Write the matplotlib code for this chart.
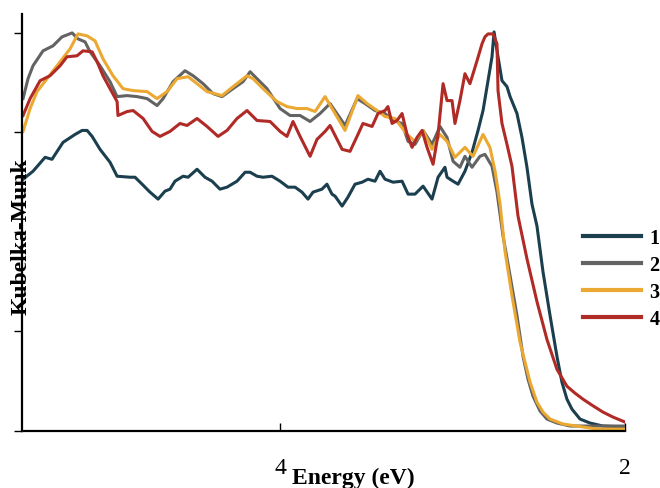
import matplotlib
matplotlib.use("Agg")
import matplotlib.pyplot as plt

plt.rcParams['font.family'] = ['Liberation Serif', 'DejaVu Serif']

# energy (eV) and Kubelka-Munk values
e1 = [5.494, 5.436, 5.366, 5.326, 5.262, 5.192, 5.151, 5.122, 5.093, 5.047, 4.989, 4.948,
      4.873, 4.844, 4.803, 4.757, 4.710, 4.670, 4.641, 4.612, 4.565, 4.536, 4.484, 4.438,
      4.397, 4.351, 4.310, 4.252, 4.205, 4.176, 4.136, 4.101, 4.049, 4.002, 3.956, 3.915,
      3.875, 3.840, 3.811, 3.759, 3.730, 3.701, 3.683, 3.642, 3.608, 3.567, 3.526, 3.492,
      3.451, 3.422, 3.393, 3.346, 3.294, 3.259, 3.219, 3.172, 3.120, 3.085, 3.045, 3.033,
      2.998, 2.969, 2.929, 2.888, 2.853, 2.824, 2.795, 2.772, 2.760, 2.737, 2.714, 2.685,
      2.667, 2.627, 2.598, 2.569, 2.540, 2.511, 2.476, 2.435, 2.395, 2.366, 2.337, 2.308,
      2.261, 2.203, 2.128, 2.000]
k1 = [2.53, 2.61, 2.75, 2.73, 2.90, 2.98, 3.02, 3.02, 2.96, 2.83, 2.70, 2.56,
      2.55, 2.55, 2.48, 2.40, 2.33, 2.41, 2.43, 2.51, 2.56, 2.55, 2.63, 2.55,
      2.51, 2.43, 2.45, 2.51, 2.60, 2.60, 2.56, 2.55, 2.56, 2.51, 2.45, 2.45,
      2.40, 2.33, 2.40, 2.43, 2.48, 2.38, 2.36, 2.26, 2.35, 2.48, 2.50, 2.53,
      2.51, 2.61, 2.53, 2.50, 2.51, 2.38, 2.38, 2.46, 2.33, 2.55, 2.65, 2.55,
      2.51, 2.48, 2.61, 2.80, 3.02, 3.22, 3.52, 3.76, 4.01, 3.76, 3.52, 3.46,
      3.36, 3.19, 2.95, 2.65, 2.28, 2.06, 1.60, 1.16, 0.75, 0.49, 0.32, 0.22,
      0.12, 0.08, 0.05, 0.04]

e2 = [5.494, 5.465, 5.436, 5.378, 5.320, 5.268, 5.209, 5.175, 5.134, 5.105, 5.047, 4.989,
      4.948, 4.890, 4.832, 4.774, 4.716, 4.681, 4.623, 4.554, 4.507, 4.449, 4.391, 4.339,
      4.275, 4.217, 4.176, 4.136, 4.078, 4.002, 3.944, 3.886, 3.828, 3.770, 3.712, 3.625,
      3.555, 3.509, 3.451, 3.393, 3.346, 3.294, 3.259, 3.219, 3.172, 3.120, 3.074, 3.033,
      2.998, 2.958, 2.929, 2.888, 2.842, 2.813, 2.772, 2.743, 2.708, 2.667, 2.627, 2.592,
      2.563, 2.534, 2.493, 2.453, 2.395, 2.319, 2.128, 2.000]
k2 = [3.34, 3.54, 3.67, 3.82, 3.87, 3.96, 4.00, 3.94, 3.91, 3.81, 3.67, 3.51,
      3.36, 3.37, 3.36, 3.34, 3.27, 3.34, 3.51, 3.62, 3.57, 3.49, 3.39, 3.36,
      3.44, 3.51, 3.61, 3.54, 3.44, 3.24, 3.17, 3.17, 3.11, 3.19, 3.29, 3.07,
      3.34, 3.29, 3.22, 3.19, 3.12, 3.09, 2.91, 2.88, 3.02, 2.88, 3.06, 2.95,
      2.71, 2.65, 2.76, 2.65, 2.76, 2.78, 2.66, 2.40, 1.96, 1.56, 1.16, 0.75,
      0.52, 0.35, 0.20, 0.12, 0.08, 0.05, 0.05, 0.05]

e3 = [5.494, 5.453, 5.413, 5.355, 5.279, 5.221, 5.175, 5.122, 5.076, 5.030, 4.972, 4.914,
      4.855, 4.774, 4.716, 4.658, 4.600, 4.536, 4.484, 4.426, 4.339, 4.275, 4.194, 4.159,
      4.101, 4.020, 3.962, 3.904, 3.846, 3.799, 3.741, 3.683, 3.625, 3.550, 3.497, 3.439,
      3.393, 3.335, 3.265, 3.219, 3.172, 3.120, 3.074, 3.033, 2.987, 2.929, 2.882, 2.824,
      2.784, 2.754, 2.725, 2.696, 2.656, 2.609, 2.551, 2.511, 2.476, 2.435, 2.360, 2.163,
      2.000]
k3 = [3.01, 3.24, 3.41, 3.54, 3.71, 3.84, 3.99, 3.97, 3.92, 3.74, 3.57, 3.44,
      3.42, 3.41, 3.34, 3.41, 3.54, 3.56, 3.49, 3.41, 3.37, 3.46, 3.57, 3.54,
      3.44, 3.31, 3.26, 3.24, 3.24, 3.21, 3.36, 3.19, 3.02, 3.37, 3.29, 3.22,
      3.16, 3.14, 2.98, 2.91, 3.02, 2.83, 2.98, 2.91, 2.75, 2.85, 2.76, 2.98,
      2.85, 2.61, 2.28, 1.80, 1.36, 0.89, 0.49, 0.29, 0.19, 0.12, 0.07, 0.02,
      0.02]

e4 = [5.494, 5.453, 5.395, 5.337, 5.279, 5.239, 5.181, 5.146, 5.093, 5.064, 5.030, 4.989,
      4.948, 4.943, 4.890, 4.855, 4.797, 4.745, 4.699, 4.641, 4.583, 4.542, 4.484, 4.426,
      4.362, 4.310, 4.252, 4.194, 4.136, 4.060, 4.002, 3.962, 3.927, 3.886, 3.828, 3.788,
      3.741, 3.712, 3.642, 3.596, 3.550, 3.521, 3.468, 3.434, 3.393, 3.376, 3.352, 3.323,
      3.294, 3.265, 3.236, 3.207, 3.178, 3.149, 3.114, 3.085, 3.056, 3.033, 3.004, 2.987,
      2.958, 2.929, 2.900, 2.882, 2.859, 2.830, 2.813, 2.795, 2.766, 2.743, 2.737, 2.714,
      2.685, 2.656, 2.621, 2.569, 2.511, 2.453, 2.395, 2.337, 2.290, 2.244, 2.192, 2.128,
      2.070, 2.000]
k4 = [3.17, 3.34, 3.52, 3.57, 3.67, 3.76, 3.77, 3.82, 3.81, 3.71, 3.57, 3.44,
      3.31, 3.17, 3.21, 3.22, 3.14, 3.01, 2.96, 3.01, 3.09, 3.07, 3.14, 3.06,
      2.96, 3.02, 3.14, 3.22, 3.12, 3.11, 3.01, 2.96, 3.11, 2.96, 2.76, 2.93,
      3.01, 3.07, 2.83, 2.81, 2.98, 3.09, 3.06, 3.19, 3.22, 3.26, 3.09, 3.12,
      3.19, 2.98, 2.85, 2.95, 3.02, 2.85, 2.68, 2.98, 3.49, 3.32, 3.32, 3.09,
      3.32, 3.59, 3.49, 3.59, 3.72, 3.89, 3.96, 3.99, 3.99, 3.89, 3.42, 3.09,
      2.88, 2.66, 2.16, 1.73, 1.30, 0.92, 0.62, 0.45, 0.38, 0.32, 0.26, 0.19,
      0.14, 0.09]

labels = ['1', '2', '3', '4']
colors = ['#1b3f4e', '#636363', '#eba832', '#b02a26']

fig = plt.figure(figsize=(6.6, 4.89), dpi=100)
ax = fig.add_axes([22/660, 1 - 432/489, 603/660, 417/489])

for e, k, lab, c in zip([e1, e2, e3, e4], [k1, k2, k3, k4], labels, colors):
    ax.plot(e, k, color=c, linewidth=2.2, label=lab)

ax.set_xlim(5.5, 2.0)
ax.set_ylim(0, 4.19)
ax.set_xticks([4, 2])
ax.set_yticks([0, 1, 2, 3, 4])
ax.set_yticklabels([])
ax.tick_params(axis='x', direction='in', length=6, width=1, pad=19, labelsize=17)
ax.tick_params(axis='y', direction='out', length=6, width=1)
for s in ['top', 'right']:
    ax.spines[s].set_visible(False)
for s in ['left', 'bottom']:
    ax.spines[s].set_linewidth(1.6)

fig.text(292/660, 1 - 484/489, 'Energy (eV)', fontsize=17, fontweight='bold',
         ha='left', va='baseline')
fig.text(21/660, 1 - 237/489, 'Kubelka-Munk', fontsize=17, fontweight='bold',
         rotation=90, ha='center', va='center')

leg = fig.legend(loc='upper left', bbox_to_anchor=(583/660, 1 - 229/489),
                 frameon=False, borderpad=0, borderaxespad=0, handlelength=2.9,
                 handletextpad=0.4, labelspacing=0.35,
                 prop={'weight': 'bold', 'size': 14.5})
for ln in leg.get_lines():
    ln.set_linewidth(3)

fig.savefig('out.png', dpi=100)
